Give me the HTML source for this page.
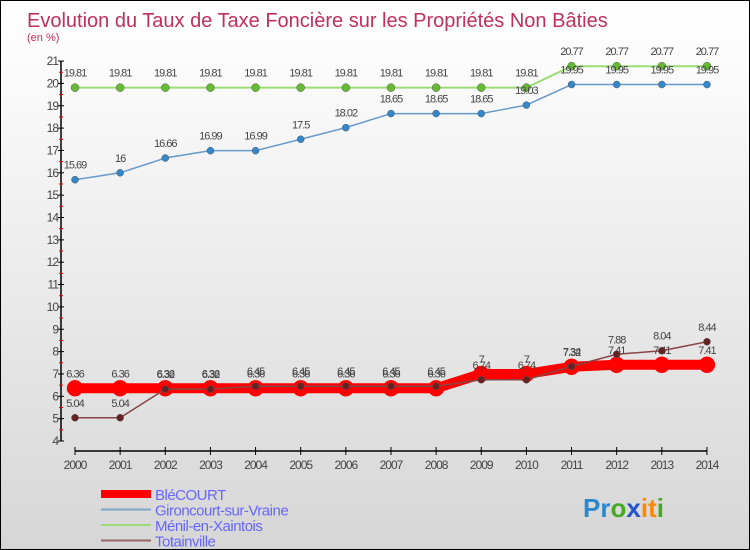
<!DOCTYPE html>
<html><head><meta charset="utf-8"><style>
body{margin:0}
#c{width:748px;height:548px;border:1px solid #000;background:linear-gradient(#fff,#fafafa 15%,#d6d6d6);position:relative;font-family:"Liberation Sans",sans-serif;overflow:hidden}
</style></head><body>
<div id="c">
<svg id="s" width="748" height="548"></svg>
</div>
<script>
const years=[2000,2001,2002,2003,2004,2005,2006,2007,2008,2009,2010,2011,2012,2013,2014];
const blecourt=[6.36,6.36,6.36,6.36,6.36,6.36,6.36,6.36,6.36,7,7,7.32,7.41,7.41,7.41];
const gironcourt=[15.69,16,16.66,16.99,16.99,17.5,18.02,18.65,18.65,18.65,19.03,19.95,19.95,19.95,19.95];
const menil=[19.81,19.81,19.81,19.81,19.81,19.81,19.81,19.81,19.81,19.81,19.81,20.77,20.77,20.77,20.77];
const totainville=[5.04,5.04,6.32,6.32,6.45,6.45,6.45,6.45,6.45,6.74,6.74,7.34,7.88,8.04,8.44];
const yTicks=[4,5,6,7,8,9,10,11,12,13,14,15,16,17,18,19,20,21];
const NS='http://www.w3.org/2000/svg',s=document.getElementById('s');
const X=i=>74+i*45.14, Y=v=>440-(v-4)*22.35;
function el(t,a,txt){const e=document.createElementNS(NS,t);for(const k in a)e.setAttribute(k,a[k]);if(txt!==undefined)e.textContent=txt;s.appendChild(e);return e;}
let e;
e=el('text',{x:26,y:26,'font-size':20,fill:'#c0305a'},'Evolution du Taux de Taxe Foncière sur les Propriétés Non Bâties');


e=el('text',{x:26,y:40,'font-size':11,fill:'#c0305a'},'(en %)');


e=el('line',{x1:60,y1:Y(21),x2:60,y2:Y(4),stroke:'#000','stroke-width':1.5});


yTicks.forEach(v=>{
  e=el('line',{x1:57,y1:Y(v),x2:63,y2:Y(v),stroke:'#000'});
  
  
  if(v<21){e=el('line',{x1:58,y1:Y(v+0.5),x2:62,y2:Y(v+0.5),stroke:'#e00'});
  
  }
  e=el('text',{x:57,y:Y(v)+4,'font-size':12,'text-anchor':'end',fill:'#444','letter-spacing':'-1'},v);
  
  
});
e=el('line',{x1:X(0),y1:450,x2:X(14),y2:450,stroke:'#000','stroke-width':1.5});


years.forEach((y,i)=>{
  e=el('line',{x1:X(i),y1:446,x2:X(i),y2:454,stroke:'#000'});
  
  
  e=el('text',{x:X(i),y:468,'font-size':12,'text-anchor':'middle',fill:'#444','letter-spacing':'-1'},y);
  
  
});
function series(vals,color,w,r,dot,name,fmt){
  e=el('polyline',{points:vals.map((v,i)=>X(i)+','+Y(v)).join(' '),fill:'none',stroke:color,'stroke-width':w,'stroke-linejoin':'round'});
  
  
  vals.forEach((v,i)=>{
    e=el('circle',{cx:X(i),cy:Y(v),r:r,fill:dot,stroke:color==='#f00'?'#f00':'#555','stroke-width':0.5});
    
    
    e=el('text',{x:X(i),y:Y(v)-11,'font-size':11,'text-anchor':'middle',fill:'#444','letter-spacing':'-1'},String(v));
    
    
  });
}
series(menil,'#99dd77',2,4,'#66bb33','menil');
series(gironcourt,'#6699cc',1.5,3.5,'#3388cc','gironcourt');
series(blecourt,'#f00',10,8,'#f00','blecourt');
series(totainville,'#884444',1.5,3.5,'#662222','totainville');
const leg=[['BléCOURT','#f00',8],['Gironcourt-sur-Vraine','#7aa8cc',2],['Ménil-en-Xaintois','#99dd77',2],['Totainville','#996666',2]];
leg.forEach((l,i)=>{
  const y=493+i*15.5;
  e=el('line',{x1:100,y1:y,x2:150,y2:y,stroke:l[1],'stroke-width':l[2]});
  
  
  e=el('text',{x:154,y:y+6,'font-size':15,fill:'#6666ff','letter-spacing':'-0.5'},l[0]);
  
  
});
e=el('text',{x:582,y:516,'font-size':26,'font-weight':'bold'});


[['P','#2a88cc'],['r','#2a88cc'],['o','#44aa22'],['x','#2255cc'],['i','#ff8800'],['t','#ff8800'],['i','#44aa22']].forEach(p=>{const t=document.createElementNS(NS,'tspan');t.setAttribute('fill',p[1]);t.textContent=p[0];e.appendChild(t);});
</script>
</body></html>
